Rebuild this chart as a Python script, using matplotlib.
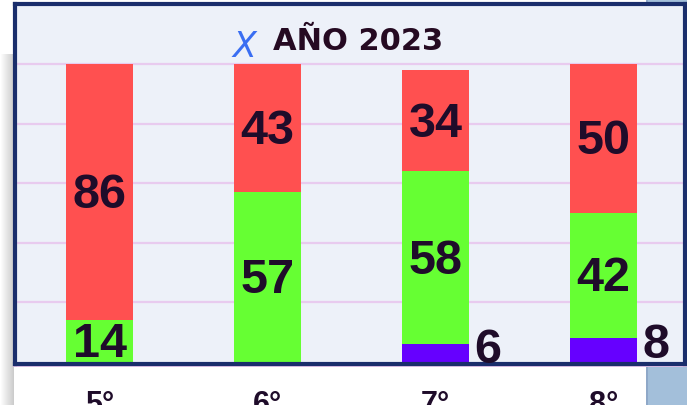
import numpy as np
import matplotlib.pyplot as plt
from matplotlib.patches import Rectangle

# data (percent of students per grade)
grades = ["5°", "6°", "7°", "8°"]
purple_vals = [0, 0, 6, 8]
green_vals = [14, 57, 58, 42]
red_vals = [86, 43, 34, 50]
title = "AÑO 2023"

RED = "#FF5050"
GREEN = "#66FF33"
PURPLE = "#6600FF"
TXT = "#1F0C2A"
NAVY = "#1A2E6C"
BG = "#EDF1F9"
GRID = "#E8CBEF"

W, H = 687, 406
fig = plt.figure(figsize=(W / 100, H / 100), dpi=100)
fig.patch.set_facecolor("white")

# background: left shadow + blue panel on the right
bg = fig.add_axes([0, 0, 1, 1], zorder=0)
bg.set_xlim(0, W)
bg.set_ylim(H, 0)
bg.axis("off")
shade = np.linspace(1.0, 0.6, 14)[None, :]
bg.imshow(np.repeat(shade, 50, axis=0), cmap="gray", vmin=0, vmax=1,
          extent=(0, 14, H, 55), aspect="auto", alpha=0.5)
bg.add_patch(Rectangle((646, 0), 41, H, color="#A3BFDA", lw=0))
bg.add_patch(Rectangle((646, 0), 2, H, color="#8FA8C8", lw=0))
bg.add_patch(Rectangle((13, 366), 674, 2, color="#E3C4EA", lw=0))

# main axes inside the navy frame
x0, x1, ytop, ybot = 15, 685, 5, 365
ax = fig.add_axes([x0 / W, 1 - ybot / H, (x1 - x0) / W, (ybot - ytop) / H], zorder=1)
ax.set_facecolor(BG)

px_per_unit = (363 - 65) / 100
ax.set_ylim(-(ybot - 363) / px_per_unit, (363 - ytop) / px_per_unit)
ax.set_xlim((x0 - 99.5) / 168, (x1 - 99.5) / 168)

x = np.arange(len(grades))
bw = 0.4
purple = np.array(purple_vals)
green = np.array(green_vals)
red = np.array(red_vals)

ax.bar(x, purple, bw, color=PURPLE, zorder=2)
ax.bar(x, green, bw, bottom=purple, color=GREEN, zorder=2)
ax.bar(x, red, bw, bottom=purple + green, color=RED, zorder=2)

for yv in [20, 40, 60, 80, 100]:
    ax.axhline(yv, color=GRID, lw=1.6, zorder=1)

lab = dict(fontsize=35, fontweight="bold", color=TXT, ha="center", va="center",
           family="Liberation Sans", zorder=3)
dy = -0.8
for i in range(len(grades)):
    if green[i]:
        ax.text(x[i], purple[i] + green[i] / 2 + dy, str(green[i]), **lab)
    ax.text(x[i], purple[i] + green[i] + red[i] / 2 + dy, str(red[i]), **lab)
    if purple[i]:
        ax.text(x[i] + bw / 2 + 0.11, purple[i] * 0.72, str(purple[i]), **lab)

ax.set_xticks(x)
ax.set_xticklabels(grades, fontsize=22, fontweight="bold", color=TXT,
                   family="Liberation Sans")
ax.tick_params(axis="x", length=0, pad=18)
ax.set_yticks([])

for s in ax.spines.values():
    s.set_color(NAVY)
    s.set_linewidth(3)

fig.text(358 / W, 1 - 41 / H, title, fontsize=22, fontweight="bold", color="#250A22",
         ha="center", va="center", family="DejaVu Sans", zorder=4)
fig.text(244 / W, 1 - 47 / H, "X", fontsize=25, fontstyle="italic",
         color="#3A6EF2", ha="center", va="center", family="DejaVu Sans", zorder=4)

fig.savefig("out.png", dpi=100, facecolor=fig.get_facecolor())
